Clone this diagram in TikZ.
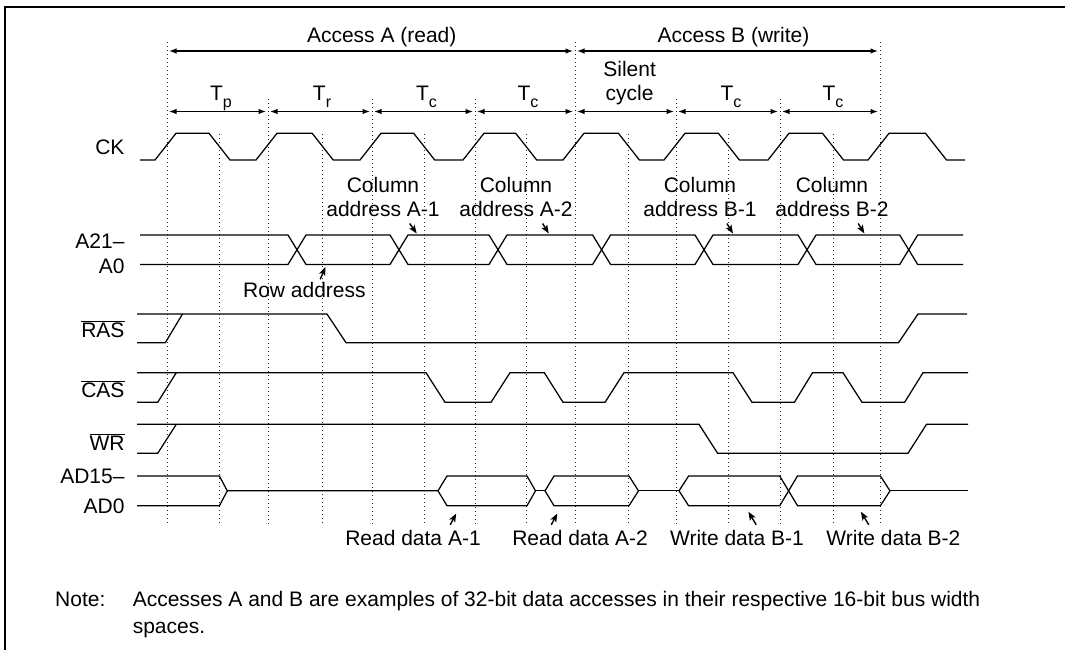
\documentclass[tikz,border=0pt]{standalone}
\usepackage{fontspec}
\setmainfont{Liberation Sans}
\usetikzlibrary{arrows.meta}
\newcommand\tsub[1]{\raisebox{-6.5pt}{\fontsize{16}{16}\selectfont #1}}
\begin{document}
\begin{tikzpicture}[x=1pt,y=-1pt,
  sig/.style={line width=1.25pt, line join=miter},
  gridline/.style={line width=1pt, dash pattern=on 1.1pt off 2.9pt, black!85},
  span/.style={line width=1.25pt, {Latex[length=7.5pt,width=5.5pt]}-{Latex[length=7.5pt,width=5.5pt]}},
  note/.style={-{Stealth[length=8.5pt,width=6.5pt,inset=2pt]}, line width=1.4pt},
  txt/.style={font=\fontsize{21}{24}\selectfont, inner sep=0pt, anchor=base},
  lbl/.style={txt, anchor=base east},
  ]
\useasboundingbox (0,0) rectangle (1065,650);
\fill[white] (0,0) rectangle (1065,650);
% frame (left and top edges)
\draw[line width=2.3pt] (5,650) -- (5,6.7) -- (1065,6.7);

% dotted timing lines
\foreach \x in {167,575,880} \draw[gridline] (\x,42) -- (\x,524);
\foreach \x in {268,372,475,676,780} \draw[gridline] (\x,99) -- (\x,524);
\foreach \x in {219.4,322.7,424.2,526.2,628.9,728.9,833} \draw[gridline] (\x,134) -- (\x,524);

% access spans
\coordinate (AAs) at (169,51); \coordinate (AAe) at (573,51);
\coordinate (ABs) at (577,51); \coordinate (ABe) at (878,51);
\draw[span] (AAs) -- (AAe);
\draw[span] (ABs) -- (ABe);
\node[txt] (accA) at (381.7,42.5) {Access A (read)};
\node[txt] (accB) at (733.5,42.5) {Access B (write)};

% cycle spans
\foreach \a/\b [count=\i] in {167/268,268/372,372/475,475/575,575/676,676/780,780/880}{
  \coordinate (t\i s) at (\a+2,111.5);
  \coordinate (t\i e) at (\b-2,111.5);
  \draw[span] (t\i s) -- (t\i e);
}
\node[txt] (Tp) at (221,100.7) {T\tsub{p}};
\node[txt] (Tr) at (322,100.7) {T\tsub{r}};
\node[txt] (Tc1) at (426.5,100.7) {T\tsub{c}};
\node[txt] (Tc2) at (528,100.7) {T\tsub{c}};
\node[txt] (sil1) at (629.6,76.7) {Silent};
\node[txt] (sil2) at (629.6,100.7) {cycle};
\node[txt] (Tc3) at (731,100.7) {T\tsub{c}};
\node[txt] (Tc4) at (833,100.7) {T\tsub{c}};

% signal labels
\node[lbl] (lCK) at (124.7,154.2) {CK};
\node[lbl] (lA1) at (124.7,248.5) {A21–};
\node[lbl] (lA2) at (124.7,273.5) {A0};
\node[lbl] (lRAS) at (124.7,337.5) {$\overline{\hbox{RAS}}$};
\node[lbl] (lCAS) at (124.7,397) {$\overline{\hbox{CAS}}$};
\node[lbl] (lWR) at (124.7,450) {$\overline{\hbox{WR}}$};
\node[lbl] (lAD1) at (124.7,483.5) {AD15–};
\node[lbl] (lAD2) at (124.7,513) {AD0};

% CK
\draw[sig] (140,160) -- (155,160) -- (176,133.3) -- (209,133.3) -- (230,160) -- (256,160)
  -- (277,133.3) -- (312.2,133.3) -- (333.2,160) -- (360,160) -- (381,133.3) -- (413.7,133.3)
  -- (434.7,160) -- (463,160) -- (484,133.3) -- (515.7,133.3) -- (536.7,160) -- (563,160)
  -- (584,133.3) -- (618.4,133.3) -- (639.4,160) -- (664,160) -- (685,133.3) -- (718.4,133.3)
  -- (739.4,160) -- (768,160) -- (789,133.3) -- (822.5,133.3) -- (843.5,160) -- (868,160)
  -- (889,133.3) -- (925.5,133.3) -- (946.5,160) -- (965,160);

% A21-A0 bus
\draw[sig] (140,235) -- (288,235) -- (306,264.5) -- (390,264.5) -- (408,235) -- (489,235)
  -- (507,264.5) -- (592.6,264.5) -- (610.6,235) -- (695,235) -- (713,264.5) -- (798,264.5)
  -- (816,235) -- (899.7,235) -- (917.7,264.5) -- (963,264.5);
\draw[sig] (140,264.5) -- (288,264.5) -- (306,235) -- (390,235) -- (408,264.5) -- (489,264.5)
  -- (507,235) -- (592.6,235) -- (610.6,264.5) -- (695,264.5) -- (713,235) -- (798,235)
  -- (816,264.5) -- (899.7,264.5) -- (917.7,235) -- (963,235);

% RAS
\draw[sig] (137,314) -- (327,314) -- (346,342.7) -- (898.5,342.7) -- (918,314) -- (967,314);
\draw[sig] (137,342.7) -- (165.3,342.7) -- (182.5,314);
% CAS
\draw[sig] (137,372.7) -- (426,372.7) -- (445,402.3) -- (491,402.3) -- (510,372.7) -- (544.3,372.7)
  -- (563,402.3) -- (605,402.3) -- (624,372.7) -- (733,372.7) -- (752,402.3) -- (794.4,402.3)
  -- (812.5,372.7) -- (843,372.7) -- (862,402.3) -- (904.6,402.3) -- (923,372.7) -- (968,372.7);
\draw[sig] (137,402.3) -- (157.7,402.3) -- (176.3,372.7);
% WR
\draw[sig] (137,424.3) -- (699,424.3) -- (717.6,453.3) -- (908,453.3) -- (926.5,424.3) -- (968,424.3);
\draw[sig] (137,453.3) -- (157.7,453.3) -- (176.3,424.3);

% AD15-AD0 bus
\draw[sig] (137,476) -- (219.4,476) -- (227.3,490.85) -- (438,490.85);
\draw[sig] (137,505.7) -- (219.4,505.7) -- (227.3,490.85);
\draw[sig] (438,490.85) -- (447,476) -- (527,476) -- (535.5,490.85) -- (527,505.7) -- (447,505.7) -- cycle;
\draw[sig] (535.5,490.85) -- (545,490.85);
\draw[sig] (545,490.85) -- (554,476) -- (629,476) -- (638.5,490.85) -- (629,505.7) -- (554,505.7) -- cycle;
\draw[sig] (638.5,490.85) -- (679,490.85);
\draw[sig] (679,490.85) -- (688.6,476) -- (779.7,476) -- (788.6,490.85) -- (779.7,505.7) -- (688.6,505.7) -- cycle;
\draw[sig] (788.6,490.85) -- (797.5,476) -- (880.4,476) -- (890,490.85) -- (880.4,505.7) -- (797.5,505.7) -- cycle;
\draw[sig] (890,490.85) -- (968,490.85);

% address annotations
\node[txt] (colA1a) at (383,192.5) {Column};
\node[txt] (colA1b) at (383,216.5) {address A-1};
\node[txt] (colA2a) at (516,192.5) {Column};
\node[txt] (colA2b) at (516,216.5) {address A-2};
\node[txt] (colB1a) at (700,192.5) {Column};
\node[txt] (colB1b) at (700,216.5) {address B-1};
\node[txt] (colB2a) at (832,192.5) {Column};
\node[txt] (colB2b) at (832,216.5) {address B-2};
\node[txt] (row) at (304.4,297.5) {Row address};
\coordinate (rowT) at (320.2,279.3); \coordinate (rowH) at (325.4,267);
\coordinate (cA1T) at (409.7,223.5); \coordinate (cA1H) at (416.7,233.5);
\coordinate (cA2T) at (542.6,223.5); \coordinate (cA2H) at (548.8,233.5);
\coordinate (cB1T) at (726.9,223.5); \coordinate (cB1H) at (733,233.5);
\coordinate (cB2T) at (858.2,223.5); \coordinate (cB2H) at (864.4,233.5);
\draw[note] (rowT) -- (rowH);
\draw[note] (cA1T) -- (cA1H);
\draw[note] (cA2T) -- (cA2H);
\draw[note] (cB1T) -- (cB1H);
\draw[note] (cB2T) -- (cB2H);

% data annotations
\node[txt] (rdA1) at (413,545) {Read data A-1};
\node[txt] (rdA2) at (580,545) {Read data A-2};
\node[txt] (wdB1) at (737,545) {Write data B-1};
\node[txt] (wdB2) at (893.4,545) {Write data B-2};
\coordinate (dA1T) at (450.2,524.8); \coordinate (dA1H) at (456.2,513.5);
\coordinate (dA2T) at (551.3,524.8); \coordinate (dA2H) at (557.3,513.5);
\coordinate (dB1T) at (756.2,524.8); \coordinate (dB1H) at (748.4,511.7);
\coordinate (dB2T) at (868.8,524.8); \coordinate (dB2H) at (860.9,511.7);
\draw[note] (dA1T) -- (dA1H);
\draw[note] (dA2T) -- (dA2H);
\draw[note] (dB1T) -- (dB1H);
\draw[note] (dB2T) -- (dB2H);

% note
\node[txt, anchor=base west] (noteL) at (55,606.5) {Note:};
\node[txt, anchor=base west] (note1) at (132.6,606.5) {Accesses A and B are examples of 32-bit data accesses in their respective 16-bit bus width};
\node[txt, anchor=base west] (note2) at (132.6,633) {spaces.};
\end{tikzpicture}
\end{document}
